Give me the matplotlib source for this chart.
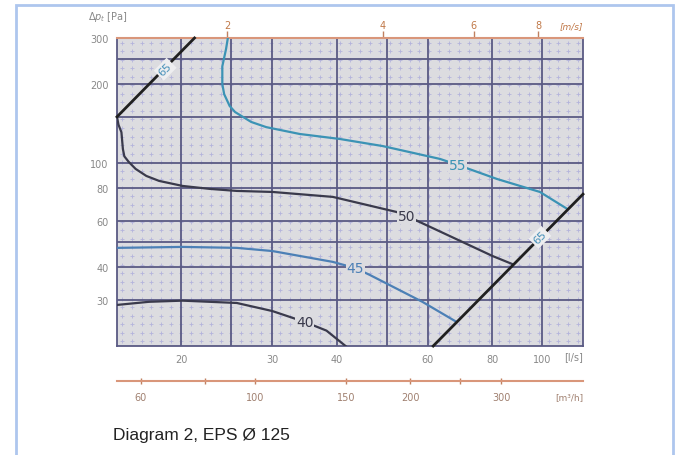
import numpy as np
import matplotlib.pyplot as plt
from matplotlib.patches import Rectangle

# fan curves, airflow q [l/s] against total pressure dp [Pa]
q55 = [24.6, 24.4, 24.0, 24.0, 24.2, 24.8, 25.4, 26.3, 27.3, 29.2, 33.9, 40.5, 49.1,
       63.4, 68.6, 81.7, 99.0, 111.8]
p55 = [300, 272, 234, 200, 183, 165, 156.5, 150, 143.4, 137, 129, 123.5, 116,
       103.6, 98.3, 86.9, 77.5, 66.8]
q50 = [15.0, 15.1, 15.3, 15.4, 15.5, 15.8, 16.3, 17.1, 18.1, 20.1, 22.7, 25.6, 30.0,
       39.3, 52.2, 54.7, 57.9, 80.2, 87.3]
p50 = [150, 140, 131, 113, 106, 101, 94.9, 89.2, 85.4, 81.7, 79.6, 78.2, 77.5,
       74.2, 65.0, 62.8, 59.5, 44.1, 41.2]
q45 = [15.0, 20.1, 25.6, 30.0, 39.3, 43.4, 46.3, 58.6, 68.3]
p45 = [47.4, 47.8, 47.4, 46.1, 41.9, 39.7, 37.4, 29.5, 24.7]
q40 = [15.0, 17.3, 20.1, 25.6, 30.0, 34.7, 38.2, 41.6]
p40 = [28.7, 29.5, 29.8, 29.2, 27.2, 24.7, 22.9, 20.0]

curve_names = ['55', '50', '45', '40']
label_q = [68.6, 54.7, 43.4, 34.7]
label_p = [98.3, 62.8, 39.7, 24.7]

# limit lines (quadratic system curves)
left_q = [15.0, 21.2]
left_p = [150, 300]
right_q = [61.5, 120]
right_p = [20, 76]
limit_label = '65'
left_label_at = (18.6, 228)
right_label_at = (99, 52)

# axes
x_ticks = [20, 25, 30, 40, 50, 60, 80, 100]
x_labels = ['20', '', '30', '40', '', '60', '80', '100']
y_ticks = [30, 40, 50, 60, 80, 100, 150, 200, 250, 300]
y_labels = ['30', '40', '', '60', '80', '100', '', '200', '', '300']
v_ticks = [2, 4, 6, 8]
m3h_ticks = [60, 80, 100, 150, 200, 250, 300]
m3h_labels = ['60', '', '100', '150', '200', '', '300']
duct_d = 0.125  # m

area = np.pi * duct_d ** 2 / 4 * 1000  # l/s per m/s

fig = plt.figure(figsize=(6.79, 4.56), dpi=100)
ax = fig.add_axes([0.1723, 0.239, 0.6863, 0.6755])

bg = '#dcdce0'
ax.set_facecolor(bg)
ax.set_xscale('log')
ax.set_yscale('log')
ax.set_xlim(15, 120)
ax.set_ylim(20, 300)

# dotted background texture
gx, gy = np.meshgrid(np.linspace(0.01, 0.99, 47), np.linspace(0.015, 0.985, 36))
ax.scatter(gx.ravel(), gy.ravel(), marker='+', s=12, lw=0.6, color='#b4b4dc',
           transform=ax.transAxes, zorder=0.5)

gridc = '#5a5a84'
ax.set_xticks(x_ticks)
ax.set_xticklabels(x_labels)
ax.set_xticks([], minor=True)
ax.set_yticks(y_ticks)
ax.set_yticklabels(y_labels)
ax.set_yticks([], minor=True)
ax.grid(True, color=gridc, lw=1.3, zorder=1)
ax.set_axisbelow(True)
ax.tick_params(length=0, labelsize=7, labelcolor='#888888', pad=6)
for s in ['left', 'bottom', 'right']:
    ax.spines[s].set_color(gridc)
    ax.spines[s].set_linewidth(1.3)
ax.spines['top'].set_color('#d9967a')
ax.spines['top'].set_linewidth(1.5)

curves = [(q55, p55, '#3b93b5'), (q50, p50, '#3a3a4c'),
          (q45, p45, '#4c80b6'), (q40, p40, '#3a3a4c')]
for (q, p, c), name, lq, lp in zip(curves, curve_names, label_q, label_p):
    ax.plot(q, p, color=c, lw=1.6, zorder=3, solid_joinstyle='round')
    ax.text(lq, lp, name, color=c, fontsize=10, ha='center', va='center', zorder=4,
            bbox=dict(facecolor=bg, edgecolor='none', pad=0.5))

ax.plot(left_q, left_p, color='#202020', lw=2, zorder=3, clip_on=False)
ax.plot(right_q, right_p, color='#202020', lw=2, zorder=3, clip_on=False)
for pos in [left_label_at, right_label_at]:
    ax.text(pos[0], pos[1], limit_label, color='#4a92ba', fontsize=8, rotation=45,
            ha='center', va='center', zorder=4,
            bbox=dict(facecolor='#eeeef0', edgecolor='none', pad=1.5))

# velocity axis on top
top = ax.secondary_xaxis('top', functions=(lambda q: q / area, lambda v: v * area))
top.set_xticks(v_ticks)
top.set_xticks([], minor=True)
top.set_xticklabels([str(v) for v in v_ticks])
top.tick_params(length=5, width=1, color='#c08060', labelsize=7, labelcolor='#c07848', pad=1)
top.spines['top'].set_visible(False)
ax.text(1.0, 1.04, '[m/s]', transform=ax.transAxes, fontsize=6.5, color='#c07848',
        ha='right', va='center', style='italic')

# m3/h axis below
bot = ax.secondary_xaxis(-0.114, functions=(lambda q: q * 3.6, lambda m: m / 3.6))
bot.set_xticks(m3h_ticks)
bot.set_xticks([], minor=True)
bot.set_xticklabels(m3h_labels)
bot.tick_params(direction='inout', length=5, width=1, color='#c08060', labelsize=7,
                labelcolor='#a08070', pad=5)
bot.spines['bottom'].set_color('#d9967a')
bot.spines['bottom'].set_linewidth(1.5)

ax.text(1.0, -0.033, '[l/s]', transform=ax.transAxes, fontsize=7, color='#888888',
        ha='right', va='center')
ax.text(1.0, -0.163, '[m³/h]', transform=ax.transAxes, fontsize=6.5, color='#a08070',
        ha='right', va='center')
ax.text(-0.063, 1.07, r'$\Delta p_t$ [Pa]', transform=ax.transAxes, fontsize=7,
        color='#888888', ha='left', va='center')

fig.text(0.166, 0.044, 'Diagram 2, EPS Ø 125', fontsize=12.5, family='Liberation Sans',
         color='#222222', ha='left', va='center')

fig.add_artist(Rectangle((0.023, -0.1), 0.968, 1.087, transform=fig.transFigure,
                         fill=False, edgecolor='#aec6ee', lw=2))

fig.savefig('out.png', dpi=100)
